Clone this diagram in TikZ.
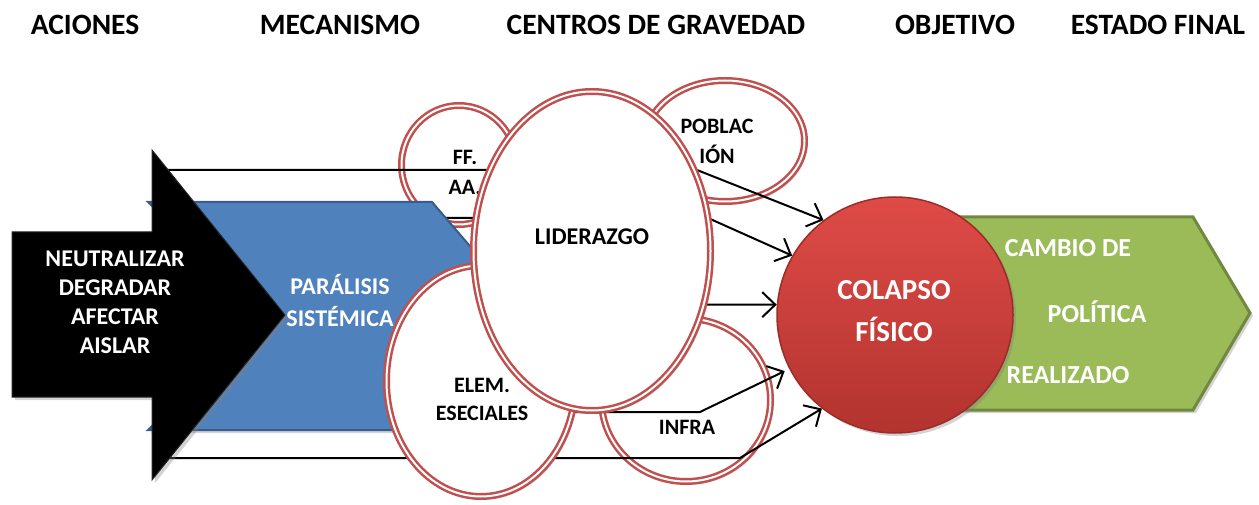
\documentclass[tikz,border=0pt]{standalone}
\usepackage{fontspec}
\setmainfont{Carlito}
\usetikzlibrary{shapes.geometric,arrows.meta,shadows,positioning}

\definecolor{cgred}{HTML}{C0504D}
\definecolor{redtop}{HTML}{DF4B47}
\definecolor{redbot}{HTML}{B2332F}
\definecolor{redrim}{HTML}{9A2C29}
\definecolor{mechblue}{HTML}{4F81BD}
\definecolor{mechrim}{HTML}{385D8A}
\definecolor{endgreen}{HTML}{9BBB59}
\definecolor{endrim}{HTML}{71893F}

\begin{document}
\begin{tikzpicture}[x=1pt,y=-1pt,
    conn/.style={draw,line width=2pt,-{Straight Barb[length=13pt,width=25pt]}},
    soft/.style={drop shadow={opacity=0.35,shadow xshift=3pt,shadow yshift=-3pt}}]

        \useasboundingbox (0,0) rectangle (1259,505);

        \begin{scope}[every node/.style={font=\fontsize{29.5}{32}\selectfont\bfseries}]
          \node (acciones) at (85,25)   {ACIONES};
          \node (mecanismo) at (340,25) {MECANISMO};
          \node (centros) at (656,25)   {CENTROS DE GRAVEDAD};
          \node (objetivo) at (955,25)  {OBJETIVO};
          \node (final) at (1158,25)    {ESTADO FINAL};
        \end{scope}

        % estado final
        \fill[endgreen,draw=endrim,line width=3pt,soft]
          (880,217) -- (1193,217) -- (1250,313) -- (1193,410) -- (880,410) -- cycle;

        \node[circle,minimum size=236pt,inner sep=0pt,draw=redrim,line width=1.5pt,
          top color=redtop,bottom color=redbot,soft] (colapso) at (895,315) {};
        \node[align=center,text=white,font=\fontsize{29}{42}\selectfont\bfseries]
          (colapsotxt) at (894,311) {COLAPSO\\FÍSICO};

        \begin{scope}[every node/.style={text=white,font=\fontsize{26}{30}\selectfont\bfseries}]
          \node (cambio) at (1068,248)  {CAMBIO DE};
          \node (politica) at (1097,312) {POLÍTICA};
          \node (realizado) at (1068,375) {REALIZADO};
        \end{scope}

        \begin{scope}[every node/.style={ellipse,draw=cgred,double=white,double distance=2pt,
            line width=2.5pt,fill=white,inner sep=0pt,soft}]
          \node[minimum width=115pt,minimum height=119pt] (ffaa) at (459,165) {};
          \node[minimum width=159pt,minimum height=121pt] (poblacion) at (725,141) {};
          \node[minimum width=169pt,minimum height=163pt] (infra) at (686,400) {};
        \end{scope}

        \begin{scope}[every node/.style={align=center,font=\fontsize{22}{30}\selectfont\bfseries}]
          \node (ffaatxt) at (465,172)      {FF.\\AA.};
          \node (poblaciontxt) at (717,141) {POBLAC\\IÓN};
          \node (infratxt) at (687,427)     {INFRA};
        \end{scope}

        \coordinate (a1) at (160,170);
        \coordinate (a2) at (160,218);
        \coordinate (a3) at (300,305);
        \coordinate (a4) at (480,412);
        \coordinate (a5) at (160,458);
        \coordinate (k1) at (697,170);
        \coordinate (k2) at (708,218);
        \coordinate (k4) at (700,412);
        \coordinate (k5) at (740,458);

        \draw[conn] (a1) -- (k1) -- (colapso.127);
        \draw[conn] (a2) -- (k2) -- (colapso.150);
        \draw[conn] (a3) -- (colapso.175);
        \draw[conn,shorten >=5pt] (a4) -- (k4) -- (colapso.207);
        \draw[conn] (a5) -- (k5) -- (colapso.232);

        % mecanismo
        \draw[fill=mechblue,draw=mechrim,line width=2pt,soft]
          (148,202) -- (432,202) -- (530,316) -- (432,430) -- (148,430) -- (266,316) -- cycle;
        \node[align=center,text=white,font=\fontsize{24}{32}\selectfont\bfseries]
          (paralisis) at (340,301) {PARÁLISIS\\SISTÉMICA};

        % acciones
        \fill[black,draw=black!85,line width=1pt,soft]
          (12,232) -- (152,232) -- (152,150) -- (285,315) -- (152,480) -- (152,397) -- (12,397) -- cycle;
        \node[align=center,text=white,font=\fontsize{24}{29}\selectfont\bfseries]
          (verbos) at (115,302) {NEUTRALIZAR\\DEGRADAR\\AFECTAR\\AISLAR};

        \begin{scope}[every node/.style={ellipse,draw=cgred,double=white,double distance=2pt,
            line width=2.5pt,fill=white,inner sep=0pt,soft}]
          \node[minimum width=189pt,minimum height=231pt] (elem) at (481,381) {};
          \node[minimum width=237pt,minimum height=319pt] (liderazgo) at (592,251) {};
        \end{scope}

        \begin{scope}[every node/.style={align=center,font=\fontsize{22}{28}\selectfont\bfseries}]
          \node (elemtxt) at (482,399)   {ELEM.\\ESECIALES};
          \node[font=\fontsize{24}{28}\selectfont\bfseries] (lidertxt) at (592,237)  {LIDERAZGO};
        \end{scope}

      \end{tikzpicture}
\end{document}
